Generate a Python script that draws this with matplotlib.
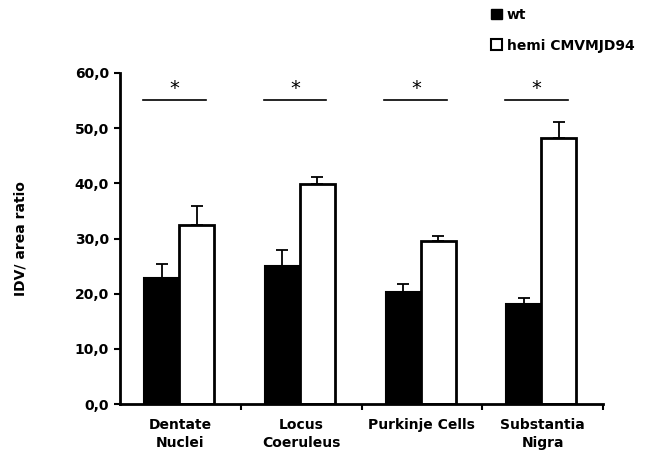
import numpy as np
import matplotlib.pyplot as plt
from matplotlib.patches import Patch

categories = ['Dentate\nNuclei', 'Locus\nCoeruleus', 'Purkinje Cells', 'Substantia\nNigra']
wt = [22.8, 25.0, 20.3, 18.1]
wt_err = [2.6, 2.9, 1.4, 1.1]
hemi = [32.4, 39.9, 29.5, 48.2]
hemi_err = [3.5, 1.2, 0.9, 2.9]
sig_level = 55.1

fig = plt.figure(figsize=(6.47, 4.62), dpi=100)
ax = fig.add_axes([0.1855, 0.1255, 0.7465, 0.7165])

x = np.arange(len(categories)) + 0.5
w = 0.29
ax.bar(x - w / 2 - 0.01, wt, w, color='black', edgecolor='black', linewidth=1.5,
       yerr=[np.zeros(4), wt_err], error_kw=dict(ecolor='black', elinewidth=1.3, capsize=4, capthick=1.3))
ax.bar(x + w / 2 - 0.01, hemi, w, color='white', edgecolor='black', linewidth=2,
       yerr=[np.zeros(4), hemi_err], error_kw=dict(ecolor='black', elinewidth=1.3, capsize=4, capthick=1.3))

for xi in x:
    ax.plot([xi - 0.31, xi + 0.21], [sig_level, sig_level], color='black', lw=1.2)
    ax.text(xi - 0.05, sig_level + 0.3, '*', ha='center', va='bottom', fontsize=14)

ax.set_xlim(0, 4)
ax.set_ylim(0, 60)
ax.set_yticks(np.arange(0, 61, 10))
ax.set_yticklabels(['%d,0' % v for v in range(0, 61, 10)], fontsize=10, fontweight='bold')
ax.set_xticks([1, 2, 3, 4])
ax.set_xticklabels([])
ax.set_xticks(x, minor=True)
ax.set_xticklabels(categories, minor=True, fontsize=10, fontweight='bold', va='top', linespacing=1.35)
ax.tick_params(axis='x', which='minor', length=0, pad=10)
ax.tick_params(axis='x', which='major', length=4, width=1.5, direction='out')
ax.tick_params(axis='y', length=4, width=1.5, direction='out', pad=4)
for s in ['top', 'right']:
    ax.spines[s].set_visible(False)
for s in ['left', 'bottom']:
    ax.spines[s].set_linewidth(2)
ax.set_ylabel('IDV/ area ratio', fontsize=10, fontweight='bold', labelpad=34)

handles = [Patch(facecolor='black', edgecolor='black', label='wt'),
           Patch(facecolor='white', edgecolor='black', linewidth=1.5, label='hemi CMVMJD94')]
fig.legend(handles=handles, loc='upper left', bbox_to_anchor=(0.74, 1.01), frameon=False,
           prop=dict(size=10, weight='bold'), handlelength=0.8, handleheight=0.8,
           handletextpad=0.3, labelspacing=1.2)

plt.savefig('out.png', dpi=100)
